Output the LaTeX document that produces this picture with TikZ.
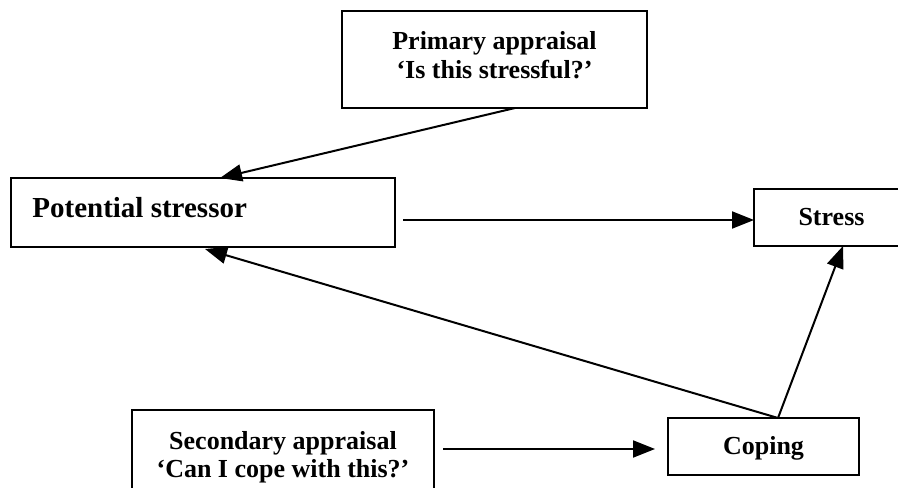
\documentclass[tikz,border=0pt]{standalone}
\usepackage{fontspec}
\setmainfont{Liberation Serif}
\usetikzlibrary{arrows.meta,calc}
\begin{document}
\begin{tikzpicture}[x=0.5pt,y=-0.5pt,
  box/.style={draw,line width=1.05pt,inner sep=0pt,outer sep=0pt},
  lbl/.style={font=\bfseries\fontsize{13}{15}\selectfont,inner sep=0pt,anchor=base},
  biglbl/.style={font=\bfseries\fontsize{14.5}{17}\selectfont,inner sep=0pt,anchor=base west},
  arr/.style={line width=1pt,-{Triangle[length=11pt,width=8.5pt]}}]
\clip (0,0) rectangle (898,487);

% boxes
\node[box,minimum width=152.5pt,minimum height=48.5pt] (primary) at (494.5,59.5) {};
\node[box,minimum width=192pt,minimum height=34.5pt] (stressor) at (203,212.5) {};
\node[box,minimum width=77.5pt,minimum height=28.5pt] (stress) at (831.5,217.5) {};
\node[box,minimum width=151pt,minimum height=43.5pt] (secondary) at (283,453.5) {};
\node[box,minimum width=95.5pt,minimum height=28.5pt] (coping) at (763.5,446.5) {};

% labels
\node[lbl] (primaryA) at (494.5,49) {Primary appraisal};
\node[lbl] (primaryB) at (494.5,78) {‘Is this stressful?’};
\node[biglbl] (stressorText) at (32,217) {Potential stressor};
\node[lbl] (stressText) at (831.5,225) {Stress};
\node[lbl] (copingText) at (763.5,454) {Coping};
\node[lbl] (secondaryA) at (283,449) {Secondary appraisal};
\node[lbl] (secondaryB) at (283,477) {‘Can I cope with this?’};

% connectors
\coordinate (copingTop) at ($(coping.north west)+(110,0)$);
\draw[arr] ($(primary.south west)+(173,0)$) -- ($(stressor.north west)+(209,0)$);
\draw[arr] ($(stressor.east)+(8,7.5)$) -- ($(stress.west)+(0,2.5)$);
\draw[arr] (copingTop) -- ($(stressor.south west)+(194,2)$);
\draw[arr] (copingTop) -- ($(stress.south west)+(89,0)$);
\draw[arr] ($(secondary.east)+(9,-4.5)$) -- ($(coping.west)+(-13,2.5)$);
\end{tikzpicture}
\end{document}
